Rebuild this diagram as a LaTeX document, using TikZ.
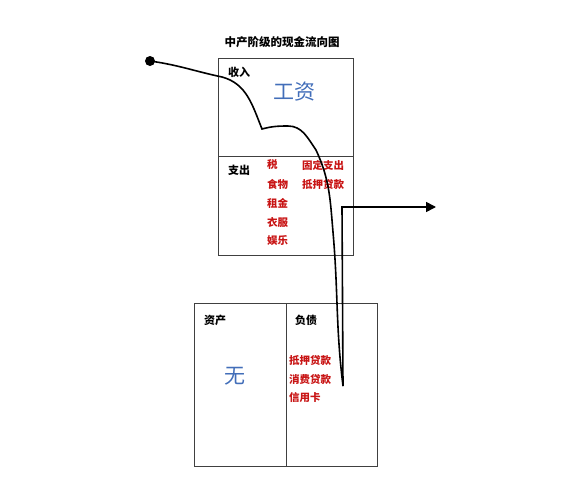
\documentclass[tikz,border=0pt]{standalone}
\usepackage{fontspec}
\setmainfont{Noto Sans CJK SC}
\usepackage{tikz}
\usetikzlibrary{arrows.meta, positioning}
\definecolor{steel}{RGB}{66,110,185}
\definecolor{redtext}{RGB}{200,20,20}

\begin{document}
\begin{tikzpicture}[x=1pt, y=-1pt,
    box/.style={draw=black!75, line width=0.8pt},
    lbl/.style={anchor=west, inner sep=0pt, font=\fontsize{11}{11}\selectfont\bfseries},
    item/.style={anchor=west, inner sep=0pt, text=redtext, font=\fontsize{10.5}{10.5}\selectfont\bfseries},
    big/.style={inner sep=0pt, text=steel, font=\fontsize{21}{21}\selectfont},
    flow/.style={line width=1.6pt, black}]
    \useasboundingbox (0,0) rectangle (575,498);

    % statement boxes
    \draw[box] (218,58) rectangle (353,255);
    \draw[box] (218,156) -- (353,156);
    \draw[box] (194,303) rectangle (377,466);
    \draw[box] (286,303) -- (286,466);

    \node[inner sep=0pt, font=\fontsize{11.5}{11.5}\selectfont\bfseries] (title) at (282,42) {中产阶级的现金流向图};

    \node[lbl] (income) at (228,72) {收入};
    \node[big] (salary) at (294,92) {工资};
    \node[lbl] (expense) at (228,170) {支出};
    \node[item] (tax) at (267,165) {税};
    \node[item, below=8.5pt of tax.south west, anchor=north west] (food) {食物};
    \node[item, below=8.5pt of food.south west, anchor=north west] (rent) {租金};
    \node[item, below=8.5pt of rent.south west, anchor=north west] (cloth) {衣服};
    \node[item, below=8.5pt of cloth.south west, anchor=north west] (fun) {娱乐};
    \node[item] (fixed) at (302,165) {固定支出};
    \node[item, below=8.5pt of fixed.south west, anchor=north west] (mort) {抵押贷款};

    \node[lbl] (assets) at (204,320) {资产};
    \node[lbl] (liab) at (295,320) {负债};
    \node[big] (none) at (235,376) {无};
    \node[item] (loan) at (289,360) {抵押贷款};
    \node[item, below=8.5pt of loan.south west, anchor=north west] (credit) {消费贷款};
    \node[item, below=8.5pt of credit.south west, anchor=north west] (card) {信用卡};

    % cash flow
    \node[circle, fill=black, inner sep=0pt, minimum size=10pt] (dot) at (150,61) {};
    \coordinate (cend) at (343,386);
    \coordinate (turn) at (342,207);
    \coordinate (tip) at (436,207);
    \draw[flow] (dot.center) to[out=-8,in=168] (222,77) to[out=-15,in=112] (262,129)
        to[out=15,in=180] (288,126) to[out=0,in=125] (316,150)
        to[out=-65,in=95] (333,232) to[out=-85,in=97] (cend);
    \draw[flow, -{Triangle[length=10pt, width=10pt]}] (cend) -- (turn) -- (tip);
\end{tikzpicture}
\end{document}
